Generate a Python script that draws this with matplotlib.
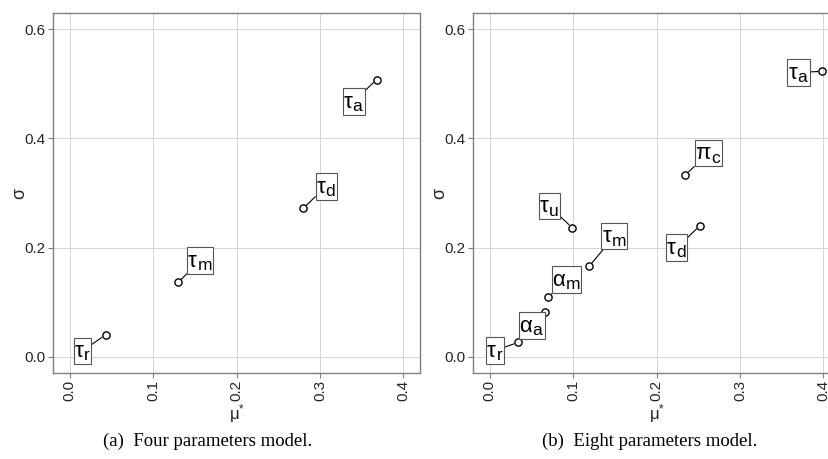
import matplotlib
matplotlib.use("Agg")
import matplotlib.pyplot as plt
from matplotlib.offsetbox import TextArea, HPacker, AnnotationBbox

plt.rcParams['font.family'] = ['Liberation Sans', 'DejaVu Sans']
plt.rcParams['mathtext.fontset'] = 'custom'
plt.rcParams['mathtext.rm'] = 'Liberation Sans'
plt.rcParams['mathtext.it'] = 'Liberation Sans:italic'

# ---- data ----
four_names = ['τ', 'τ', 'τ', 'τ']
four_subs = ['r', 'm', 'd', 'a']
four_mu = [0.043, 0.130, 0.280, 0.368]
four_sigma = [0.040, 0.136, 0.272, 0.508]

eight_names = ['τ', 'α', 'α', 'τ', 'τ', 'τ', 'π', 'τ']
eight_subs = ['r', 'a', 'm', 'm', 'u', 'd', 'c', 'a']
eight_mu = [0.034, 0.066, 0.0705, 0.1195, 0.099, 0.252, 0.2346, 0.399]
eight_sigma = [0.026, 0.081, 0.110, 0.166, 0.236, 0.240, 0.333, 0.523]

x_ticks = [0.0, 0.1, 0.2, 0.3, 0.4]
y_ticks = [0.0, 0.2, 0.4, 0.6]
captions = ['(a)  Four parameters model.', '(b)  Eight parameters model.']

# ---- layout (label offsets in pixels) ----
four_offsets = [(-23, -16), (22, 22), (23, 22), (-23, -22)]
eight_offsets = [(-23, -8), (-13, -13), (18, 17), (25, 30),
                 (-23, 22), (-23, -22), (23, 22), (-24, -1)]

W, H = 829, 459
fig = plt.figure(figsize=(W / 100, H / 100), dpi=100)

frame_col = '#7f7f7f'
grid_col = '#d4d4d4'
tick_col = '#262626'
MAIN_FS = 16
SUB_FS = 12.5


def make_label(name, sub):
    main = TextArea(name, textprops=dict(fontsize=MAIN_FS, color='black'))
    subt = TextArea(r'$_{\mathrm{' + sub + '}}$',
                    textprops=dict(fontsize=SUB_FS / 0.7, color='black'))
    return HPacker(children=[main, subt], align='baseline', pad=0, sep=0)


def panel(left_px, names, subs, mus, sigmas, offsets, caption, cap_x):
    ax = fig.add_axes([left_px / W, (H - 373) / H, 367 / W, 360 / H])
    ax.set_xlim(-0.02, 0.42)
    ax.set_ylim(-0.03, 0.63)
    ax.set_xticks(x_ticks)
    ax.set_yticks(y_ticks)
    ax.set_xticklabels([f'{t:.1f}' for t in x_ticks], rotation=90)
    ax.set_yticklabels([f'{t:.1f}' for t in y_ticks])
    ax.tick_params(axis='both', length=3.6, width=0.8, color=frame_col,
                   labelsize=11, labelcolor=tick_col, pad=1.5)
    ax.grid(True, color=grid_col, lw=0.7)
    ax.set_axisbelow(True)
    for s in ax.spines.values():
        s.set_color(frame_col)
        s.set_linewidth(1.0)
    ax.plot(mus, sigmas, linestyle='none', marker='o', markersize=5.2,
            markerfacecolor='none', markeredgecolor='black',
            markeredgewidth=1.0, zorder=3)
    for nm, sb, x, y, off in zip(names, subs, mus, sigmas, offsets):
        ab = AnnotationBbox(make_label(nm, sb), (x, y), xybox=off,
                            boxcoords='offset pixels', frameon=True,
                            pad=0.05, fontsize=10,
                            bboxprops=dict(boxstyle='square,pad=0.05',
                                           fc='white', ec='#555555', lw=0.8),
                            arrowprops=dict(arrowstyle='-', color='black',
                                            lw=0.8, shrinkA=0, shrinkB=3.2),
                            annotation_clip=False, zorder=5)
        ax.add_artist(ab)
    fig.text((left_px - 33) / W, (H - 193) / H, 'σ', rotation=90,
             ha='center', va='center', fontsize=13, color=tick_col)
    fig.text((left_px + 184) / W, (H - 414) / H, 'μ$^{*}$',
             ha='center', va='center', fontsize=12, color=tick_col)
    fig.text(cap_x / W, (H - 441) / H, caption, ha='center', va='center',
             fontsize=13.5, family=['Liberation Serif', 'DejaVu Serif'])
    return ax


panel(53, four_names, four_subs, four_mu, four_sigma, four_offsets,
      captions[0], 208)
panel(473, eight_names, eight_subs, eight_mu, eight_sigma, eight_offsets,
      captions[1], 650)

fig.savefig('out.png', dpi=100)
